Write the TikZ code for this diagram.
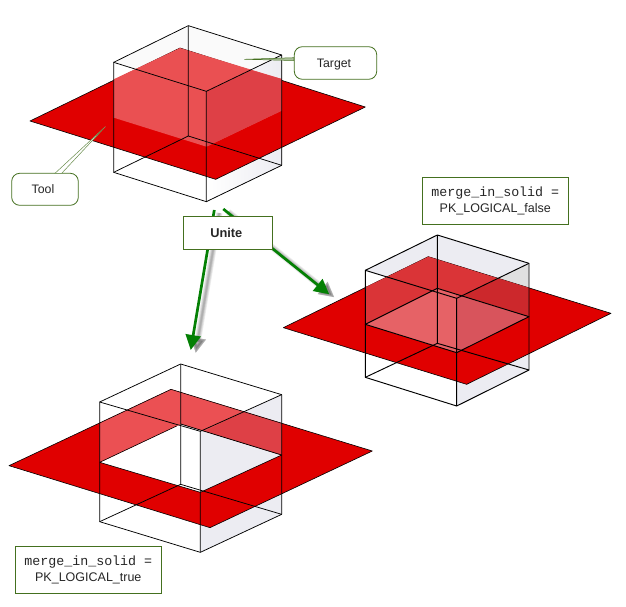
\documentclass[tikz,border=0pt]{standalone}
\usepackage{fontspec}
\setmainfont{Liberation Sans}
\newfontfamily\cmono{Liberation Mono}
\usetikzlibrary{arrows.meta}
\definecolor{planered}{HTML}{E00000}
\definecolor{boxgreen}{HTML}{44701F}
\definecolor{arrowgreen}{HTML}{048004}
\definecolor{facegray}{HTML}{ECECF2}
\tikzset{
  edge/.style={draw=black,line width=0.75pt,line join=round},
  planeedge/.style={fill=planered,draw=black,line width=0.6pt,line join=round},
  callout/.style={draw=boxgreen,line width=0.8pt,fill=white,rounded corners=8pt,inner sep=0pt,font=\fontsize{12.3}{14}\selectfont,text=black!85},
  labelbox/.style={draw=boxgreen,line width=0.9pt,fill=white,inner sep=0pt,align=center,font=\fontsize{12.5}{16}\selectfont,text=black!85},
  flow/.style={draw=arrowgreen,line width=2.7pt,-{Triangle[length=15pt,width=15pt]}},
  flowshadow/.style={draw=black,opacity=0.07,line width=#1,-{Triangle[length=15pt,width=15pt]}},
  zoomed/.style={x=0.33333pt,y=-0.33333pt}
}
\begin{document}
\begin{tikzpicture}[x=1pt,y=-1pt]
\useasboundingbox (0,0) rectangle (626,607);
\fill[white] (0,0) rectangle (626,607);

% ---------- top figure
\begin{scope}[shift={(0,10)},zoomed]
  \fill[black!2] (341,157)--(565,47)--(845,135)--(619,244)--cycle;
  \fill[left color=white,right color=facegray] (619,244)--(845,135)--(845,466)--(619,575)--cycle;
  \draw[planeedge] (90,333)--(540,114)--(1096,291)--(647,508)--cycle;
  \fill[color={rgb,255:red,234;green,80;blue,82}] (341,208)--(540,114)--(845,207)--(845,302)--(640,400)--(619,410)--(341,323)--cycle;
  \fill[color={rgb,255:red,222;green,64;blue,70}] (751,180)--(845,207)--(845,302)--(619,410)--(619,244)--cycle;
  \draw[edge] (565,47)--(565,378) (341,487)--(565,378)--(845,466);
  \draw[edge] (341,157)--(565,47)--(845,135)--(845,466)--(619,575)--(341,487)--cycle;
  \draw[edge] (341,157)--(619,244)--(845,135) (619,244)--(619,575);
\end{scope}

% ---------- right figure
\begin{scope}[shift={(280,170)},zoomed]
  \fill[facegray] (256,301)--(472,195)--(747,280)--(530,385)--cycle;
  \fill[facegray] (530,385)--(747,280)--(747,600)--(530,708)--cycle;
  \fill[black!12] (654,325)--(747,280)--(747,354)--cycle;
  \draw[planeedge] (10,473)--(445,260)--(993,430)--(560,643)--cycle;
  \fill[color={rgb,255:red,218;green,52;blue,55}] (256,352)--(445,260)--(747,354)--(747,440)--(472,355)--(256,463)--cycle;
  \fill[color={rgb,255:red,204;green,40;blue,44}] (654,325)--(747,354)--(747,440)--(545,378)--cycle;
  \fill[color={rgb,255:red,230;green,98;blue,102}] (256,463)--(472,355)--(530,373)--(530,548)--cycle;
  \fill[color={rgb,255:red,216;green,84;blue,92}] (530,373)--(747,440)--(530,548)--cycle;
  \draw[edge,line width=0.95pt] (472,195)--(472,520) (256,622)--(472,520)--(747,600);
  \draw[edge,line width=0.95pt] (256,463)--(472,355)--(747,440)--(530,548)--cycle;
  \draw[edge,line width=0.95pt] (256,301)--(472,195)--(747,280)--(747,600)--(530,708)--(256,622)--cycle;
  \draw[edge,line width=0.95pt] (256,301)--(530,385)--(747,280) (530,385)--(530,708);
\end{scope}

% ---------- bottom figure
\begin{scope}[shift={(0,350)},zoomed]
  \fill[facegray] (601,244)--(845,134)--(845,493)--(601,607)--cycle;
  \fill[fill=planered,even odd rule] (27,347)--(513,118)--(1117,303)--(630,533)--cycle
     (299,337)--(542,222)--(845,315)--(601,427)--cycle;
  \fill[color={rgb,255:red,235;green,80;blue,83}] (299,219)--(513,118)--(845,220)--(845,315)--(542,222)--(299,337)--cycle;
  \fill[color={rgb,255:red,222;green,64;blue,70}] (732,185)--(845,220)--(845,315)--(615,243)--cycle;
  \draw[black,line width=0.6pt,line join=round] (27,347)--(513,118)--(1117,303)--(630,533)--cycle
     (299,337)--(530,228) (845,315)--(601,427)--(299,337);
  \draw[edge] (542,42)--(542,403) (299,515)--(542,403)--(845,493) (542,222)--(845,315);
  \draw[edge] (299,156)--(542,42)--(845,134)--(845,493)--(601,607)--(299,515)--cycle;
  \draw[edge] (299,156)--(601,244)--(845,134) (601,244)--(601,607);
\end{scope}

% ---------- callouts
\node[callout,minimum width=82.4pt,minimum height=32.6pt,text depth=0pt] (target) at (335.5,63) {\kern-3pt Target};
\node[callout,minimum width=66.6pt,minimum height=32pt] (tool) at (45,189.3) {\kern-4pt Tool};
\coordinate (targettip) at (244.3,59.3);
\coordinate (tooltip) at (105.3,126.7);
\filldraw[draw=boxgreen,fill=boxgreen!45,line width=0.5pt] (targettip)--(target.west |- 0,57.7)--(target.west |- 0,60.5)--cycle;
\filldraw[draw=boxgreen!80,fill=white,line width=0.5pt] (tooltip)--(55,173.3)--(61.7,173.3)--cycle;

% ---------- flow arrows
\coordinate (uniteleft) at (214.3,210);
\coordinate (uniteright) at (223.3,209);
\coordinate (tipbottom) at (190.7,350);
\coordinate (tipright) at (329.3,294.3);
\foreach \w/\dx/\dy in {6.5pt/5/3,5pt/5/3,3.5pt/5/3,2.5pt/5/3,1.5pt/5/3}{
  \draw[flowshadow=\w] ([shift={(\dx,\dy)}]uniteleft)--([shift={(\dx,\dy)}]tipbottom);
  \draw[flowshadow=\w] ([shift={(\dx,\dy)}]uniteright)--([shift={(\dx,\dy)}]tipright);
}
\draw[flow] (uniteleft)--(tipbottom);
\draw[flow] (uniteright)--(tipright);

\node[labelbox,minimum width=89pt,minimum height=32.6pt,font=\fontsize{12.8}{15}\selectfont\bfseries] (unite) at (227.8,233) {\kern-3pt Unite};

% ---------- value labels
\node[labelbox,minimum width=146pt,minimum height=47pt] (falsebox) at (495.3,201.3)
  {{\cmono\fontsize{13.3}{16}\selectfont merge\_in\_solid =}\\PK\_LOGICAL\_false};
\node[labelbox,minimum width=146pt,minimum height=47pt] (truebox) at (88.3,569.7)
  {{\cmono\fontsize{13.3}{16}\selectfont merge\_in\_solid =}\\PK\_LOGICAL\_true};
\end{tikzpicture}
\end{document}
